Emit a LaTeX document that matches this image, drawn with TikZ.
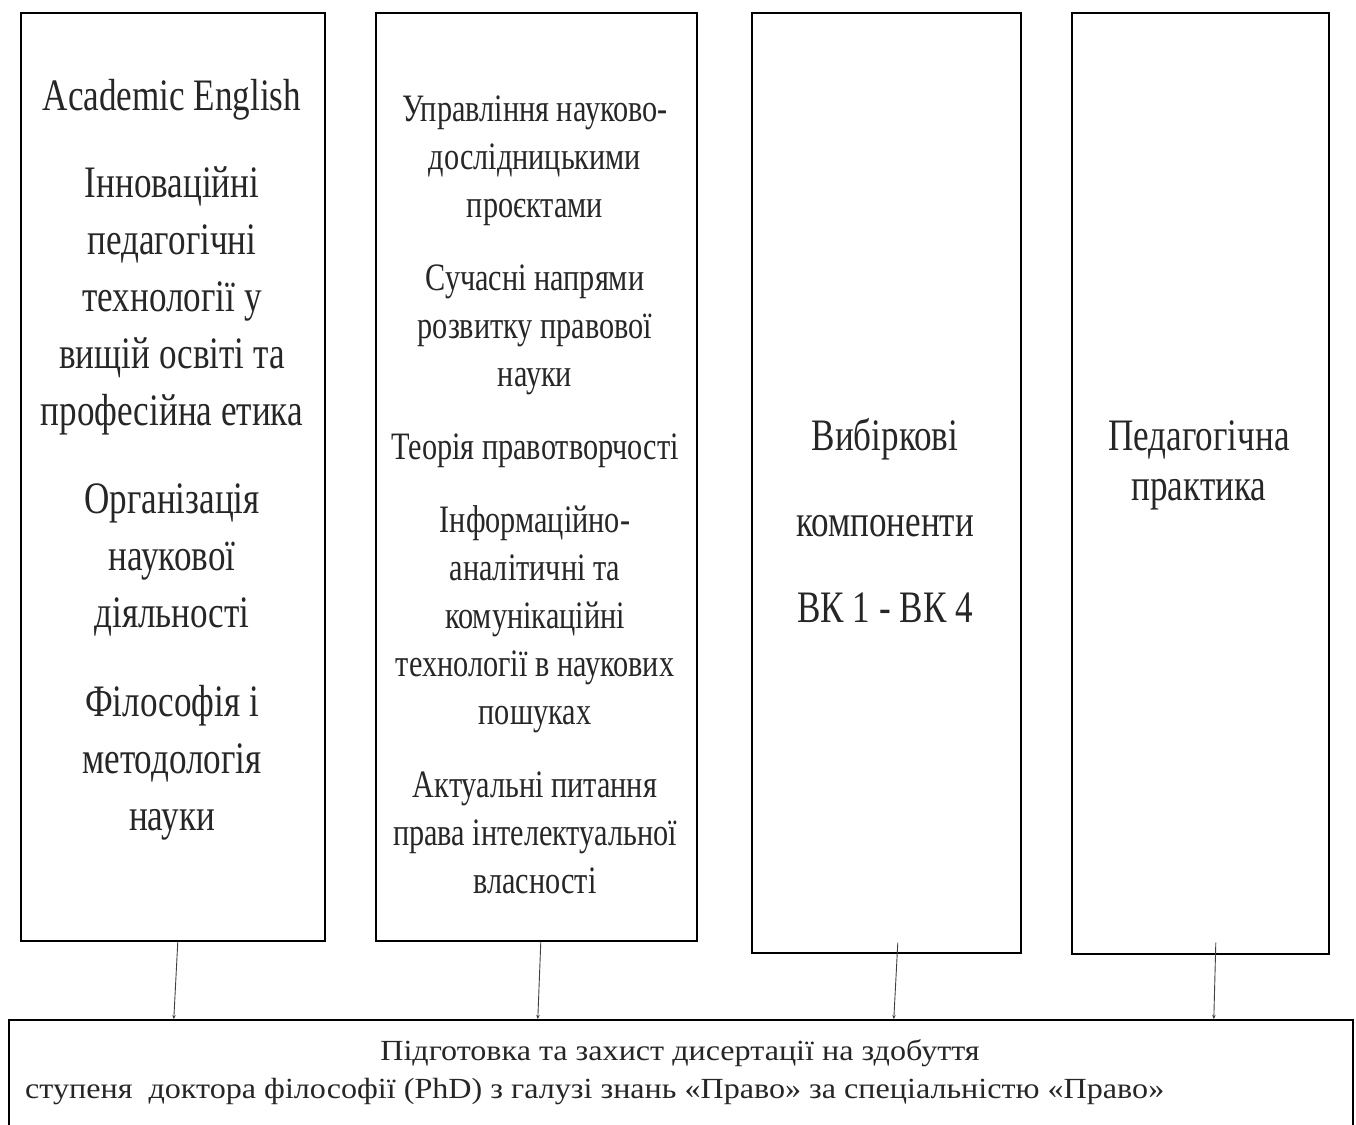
\documentclass[tikz,border=0pt]{standalone}
\usepackage{fontspec}
\setmainfont{Liberation Serif}[FakeStretch=0.78]
\newfontfamily\widefont{Liberation Serif}[FakeStretch=1.1]
\usetikzlibrary{arrows.meta}
\tikzset{
  panel/.style={draw=black, line width=1.6pt, inner sep=0pt, anchor=north west},
  conn/.style={draw=black!75, line width=0.9pt, -{Stealth[length=4pt,width=3.5pt]}},
  bigtxt/.style={align=center, inner sep=0pt, text=black!85, font=\fontsize{45}{57}\selectfont},
  midtxt/.style={align=center, inner sep=0pt, text=black!85, font=\fontsize{38.8}{48}\selectfont},
  smalltxt/.style={inner sep=0pt, text=black!85, font=\widefont\fontsize{29.2}{39}\selectfont}
}
\begin{document}
\begin{tikzpicture}[x=1pt,y=-1pt]
  \useasboundingbox (0,0) rectangle (1356,1124);
  \def\top{12};
  % upper columns
  \node[panel, minimum width=304pt, minimum height=928pt] (core) at (20,\top) {};
  \node[panel, minimum width=321pt, minimum height=928pt] (law) at (375,\top) {};
  \node[panel, minimum width=269pt, minimum height=940pt] (elect) at (751,\top) {};
  \node[panel, minimum width=257pt, minimum height=941pt] (pract) at (1071,\top) {};
  % final block, runs past the lower edge
  \node[panel, minimum width=1344pt, minimum height=121pt] (thesis) at (8,1019) {};

  \node[bigtxt] (coretxt) at (172,460) {Academic English\\[30pt]
    Інноваційні\\педагогічні\\технології у\\вищій освіті та\\професійна етика\\[31pt]
    Організація\\наукової\\діяльності\\[32pt]
    Філософія і\\методологія\\науки};
  \node[midtxt] (lawtxt) at (535,495) {Управління науково-\\дослідницькими\\проєктами\\[25pt]
    Сучасні напрями\\розвитку правової\\науки\\[25pt]
    Теорія правотворчості\\[25pt]
    Інформаційно-\\аналітичні та\\комунікаційні\\технології в наукових\\пошуках\\[25pt]
    Актуальні питання\\права інтелектуальної\\власності};
  \node[bigtxt, font=\fontsize{45}{86}\selectfont] (electtxt) at (885,520) {Вибіркові\\компоненти\\ВК 1 - ВК 4};
  \node[bigtxt, font=\fontsize{45}{50}\selectfont] (practtxt) at (1199,465) {Педагогічна\\практика};
  \node[smalltxt] (thesis1) at (680,1053) {Підготовка та захист дисертації на здобуття};
  \node[smalltxt, anchor=west] (thesis2) at (25,1092) {ступеня\ \ доктора філософії (PhD) з галузі знань «Право» за спеціальністю «Право»};

  % connectors
  \draw[conn] ([xshift=5pt]core.south) -- ([xshift=1pt]core.south |- thesis.north);
  \draw[conn] ([xshift=4.5pt]law.south) -- ([xshift=1.5pt]law.south |- thesis.north);
  \draw[conn] ([xshift=11.5pt,yshift=11pt]elect.south) -- ([xshift=7.5pt]elect.south |- thesis.north);
  \draw[conn] ([xshift=15.5pt,yshift=12pt]pract.south) -- ([xshift=13.5pt]pract.south |- thesis.north);
\end{tikzpicture}
\end{document}
